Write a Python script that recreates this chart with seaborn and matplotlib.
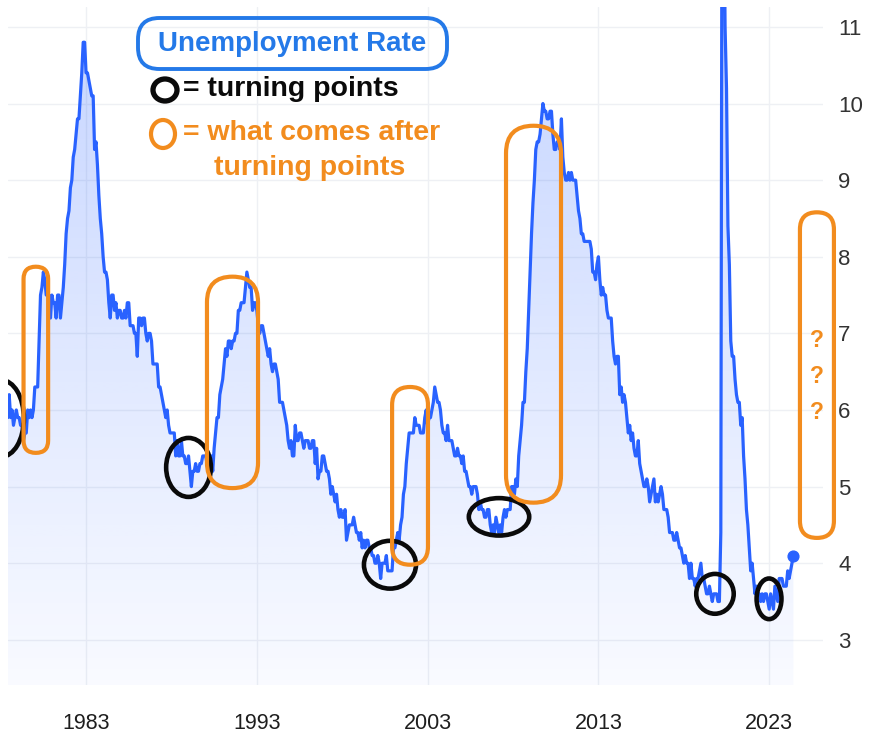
import numpy as np
import pandas as pd
import matplotlib
matplotlib.use("Agg")
import matplotlib.pyplot as plt
import seaborn as sns
from matplotlib.patches import FancyBboxPatch, Ellipse
from matplotlib.colors import to_rgb

# ---------------- data (monthly US unemployment rate, %) ----------------
START_YEAR = 1978
rates_1978_1987 = [
    6.4, 6.3, 6.3, 6.1, 6.0, 5.9, 6.2, 5.9, 6.0, 5.8, 5.9, 6.0,
    5.9, 5.9, 5.8, 5.8, 5.6, 5.7, 5.7, 6.0, 5.9, 6.0, 5.9, 6.0,
    6.3, 6.3, 6.3, 6.9, 7.5, 7.6, 7.8, 7.7, 7.5, 7.5, 7.5, 7.2,
    7.5, 7.4, 7.4, 7.2, 7.5, 7.5, 7.2, 7.4, 7.6, 7.9, 8.3, 8.5,
    8.6, 8.9, 9.0, 9.3, 9.4, 9.6, 9.8, 9.8, 10.1, 10.4, 10.8, 10.8,
    10.4, 10.4, 10.3, 10.2, 10.1, 10.1, 9.4, 9.5, 9.2, 8.8, 8.5, 8.3,
    8.0, 7.8, 7.8, 7.7, 7.4, 7.2, 7.5, 7.5, 7.3, 7.4, 7.2, 7.3,
    7.3, 7.2, 7.2, 7.3, 7.2, 7.4, 7.4, 7.1, 7.1, 7.1, 7.0, 7.0,
    6.7, 7.2, 7.2, 7.1, 7.2, 7.2, 7.0, 6.9, 7.0, 7.0, 6.9, 6.6,
    6.6, 6.6, 6.6, 6.3, 6.3, 6.2, 6.1, 6.0, 5.9, 6.0, 5.8, 5.7,
]
rates_1988_1997 = [
    5.7, 5.7, 5.7, 5.4, 5.6, 5.4, 5.4, 5.6, 5.4, 5.4, 5.3, 5.3,
    5.4, 5.2, 5.0, 5.2, 5.2, 5.3, 5.2, 5.2, 5.3, 5.3, 5.4, 5.4,
    5.4, 5.3, 5.2, 5.4, 5.4, 5.2, 5.5, 5.7, 5.9, 5.9, 6.2, 6.3,
    6.4, 6.6, 6.8, 6.7, 6.9, 6.9, 6.8, 6.9, 6.9, 7.0, 7.0, 7.3,
    7.3, 7.4, 7.4, 7.4, 7.6, 7.8, 7.7, 7.6, 7.6, 7.3, 7.4, 7.4,
    7.3, 7.1, 7.0, 7.1, 7.1, 7.0, 6.9, 6.8, 6.7, 6.8, 6.6, 6.5,
    6.6, 6.6, 6.5, 6.4, 6.1, 6.1, 6.1, 6.0, 5.9, 5.8, 5.6, 5.5,
    5.6, 5.4, 5.4, 5.8, 5.6, 5.6, 5.7, 5.7, 5.6, 5.5, 5.6, 5.6,
    5.6, 5.5, 5.5, 5.6, 5.6, 5.3, 5.5, 5.1, 5.2, 5.2, 5.4, 5.4,
    5.3, 5.2, 5.2, 5.1, 4.9, 5.0, 4.9, 4.8, 4.9, 4.7, 4.6, 4.7,
]
rates_1998_2007 = [
    4.6, 4.6, 4.7, 4.3, 4.4, 4.5, 4.5, 4.5, 4.6, 4.5, 4.4, 4.4,
    4.3, 4.4, 4.2, 4.3, 4.2, 4.3, 4.3, 4.2, 4.2, 4.1, 4.1, 4.0,
    4.0, 4.1, 4.0, 3.8, 4.0, 4.0, 4.0, 4.1, 3.9, 3.9, 3.9, 3.9,
    4.2, 4.2, 4.3, 4.4, 4.3, 4.5, 4.6, 4.9, 5.0, 5.3, 5.5, 5.7,
    5.7, 5.7, 5.7, 5.9, 5.8, 5.8, 5.8, 5.7, 5.7, 5.7, 5.9, 6.0,
    5.8, 5.9, 5.9, 6.0, 6.1, 6.3, 6.2, 6.1, 6.1, 6.0, 5.8, 5.7,
    5.7, 5.6, 5.8, 5.6, 5.6, 5.6, 5.5, 5.4, 5.4, 5.5, 5.4, 5.4,
    5.3, 5.4, 5.2, 5.2, 5.1, 5.0, 5.0, 4.9, 5.0, 5.0, 5.0, 4.9,
    4.7, 4.8, 4.7, 4.7, 4.6, 4.6, 4.7, 4.7, 4.5, 4.4, 4.5, 4.4,
    4.6, 4.5, 4.4, 4.5, 4.4, 4.6, 4.7, 4.6, 4.7, 4.7, 4.7, 5.0,
]
rates_2008_2017 = [
    5.0, 4.9, 5.1, 5.0, 5.4, 5.6, 5.8, 6.1, 6.1, 6.5, 6.8, 7.3,
    7.8, 8.3, 8.7, 9.0, 9.4, 9.5, 9.5, 9.6, 9.8, 10.0, 9.9, 9.9,
    9.8, 9.8, 9.9, 9.9, 9.6, 9.4, 9.4, 9.5, 9.5, 9.4, 9.8, 9.3,
    9.1, 9.0, 9.0, 9.1, 9.0, 9.1, 9.0, 9.0, 9.0, 8.8, 8.6, 8.5,
    8.3, 8.3, 8.2, 8.2, 8.2, 8.2, 8.2, 8.1, 7.8, 7.8, 7.7, 7.9,
    8.0, 7.7, 7.5, 7.6, 7.5, 7.5, 7.3, 7.2, 7.2, 7.2, 6.9, 6.7,
    6.6, 6.7, 6.7, 6.2, 6.3, 6.1, 6.2, 6.1, 5.9, 5.7, 5.8, 5.6,
    5.7, 5.5, 5.4, 5.4, 5.6, 5.3, 5.2, 5.1, 5.0, 5.0, 5.1, 5.0,
    4.8, 4.9, 5.0, 5.1, 4.8, 4.9, 4.8, 4.9, 5.0, 4.9, 4.7, 4.7,
    4.7, 4.6, 4.4, 4.4, 4.4, 4.3, 4.3, 4.4, 4.3, 4.2, 4.2, 4.1,
]
rates_2018_2024 = [
    4.0, 4.1, 4.0, 4.0, 3.8, 4.0, 3.8, 3.8, 3.7, 3.8, 3.8, 3.9,
    4.0, 3.8, 3.8, 3.7, 3.6, 3.6, 3.7, 3.6, 3.5, 3.6, 3.6, 3.6,
    3.5, 3.5, 4.4, 14.8, 13.2, 11.0, 10.2, 8.4, 7.9, 6.9, 6.7, 6.7,
    6.4, 6.2, 6.1, 6.1, 5.8, 5.9, 5.4, 5.1, 4.7, 4.5, 4.2, 3.9,
    4.0, 3.8, 3.6, 3.7, 3.6, 3.6, 3.5, 3.6, 3.5, 3.6, 3.6, 3.5,
    3.4, 3.6, 3.5, 3.4, 3.7, 3.6, 3.5, 3.8, 3.8, 3.8, 3.7, 3.7,
    3.7, 3.9, 3.8, 3.9, 4.0, 4.1,
]
x_ticks = [1983, 1993, 2003, 2013, 2023]
y_ticks = [3, 4, 5, 6, 7, 8, 9, 10, 11]

# annotation regions in data units: (year_from, year_to, rate_low, rate_high)
turning_points = [
    (1976.79, 1979.31, 5.41, 6.37),
    (1987.74, 1990.26, 4.88, 5.62),
    (1999.33, 2002.26, 3.68, 4.28),
    (2005.48, 2008.88, 4.37, 4.84),
    (2018.77, 2020.88, 3.35, 3.85),
    (2022.29, 2023.69, 3.28, 3.79),
]
after_turning = [
    (1979.34, 1980.78, 5.44, 7.87),
    (1990.08, 1993.07, 4.98, 7.74),
    (2000.92, 2003.02, 3.98, 6.30),
    (2007.59, 2010.81, 4.79, 9.71),
]
future_box = (2024.80, 2026.79, 4.33, 8.58)
question_marks = ["?", "?", "?"]
question_levels = [6.91, 6.44, 5.97]

title_text = "Unemployment Rate"
legend_black = "= turning points"
legend_orange_1 = "= what comes after"
legend_orange_2 = "turning points"

# ---------------- style ----------------
LINE = "#2962FF"
ORANGE = "#F28C1E"
BLUE_T = "#2479E8"
BLACK = "#0a0a0a"
sns.set_style("white")
plt.rcParams["font.family"] = ["Liberation Sans", "DejaVu Sans"]

rates = rates_1978_1987 + rates_1988_1997 + rates_1998_2007 + rates_2008_2017 + rates_2018_2024
df = pd.DataFrame({"t": START_YEAR + np.arange(len(rates)) / 12.0, "rate": rates})

W, H = 873, 736
fig = plt.figure(figsize=(W / 100, H / 100), dpi=100)
fig.patch.set_facecolor("white")
ax = fig.add_axes([8 / W, 1 - 685 / H, 815 / W, 678 / H])
XL = (1978.43, 2026.15)
YL = (2.41, 11.26)

# gradient area under the line
poly = ax.fill_between(df["t"], df["rate"], YL[0], color="none", lw=0)
clip_path = poly.get_paths()[0]
n = 256
rgba = np.zeros((n, 1, 4))
rgba[..., :3] = to_rgb(LINE)
rgba[..., 3] = np.linspace(0.27, 0.03, n)[:, None]
im = ax.imshow(rgba, extent=[XL[0], XL[1], YL[0], YL[1]], origin="upper",
               aspect="auto", zorder=1, interpolation="bilinear")
im.set_clip_path(clip_path, transform=ax.transData)

sns.lineplot(data=df, x="t", y="rate", color=LINE, lw=2.3, ax=ax, zorder=3)
last = df.tail(1)
ax.scatter(last["t"], last["rate"], s=60, color=LINE, zorder=4, clip_on=False)

ax.set_xlim(*XL)
ax.set_ylim(*YL)
ax.set_xticks(x_ticks)
ax.set_xticklabels([str(v) for v in x_ticks])
ax.set_yticks(y_ticks)
ax.yaxis.tick_right()
ax.tick_params(axis="x", length=0, labelsize=15.5, pad=20, labelcolor="#1e1e1e")
ax.tick_params(axis="y", length=0, labelsize=16, pad=11, labelcolor="#333333")
ax.set_xlabel("")
ax.set_ylabel("")
ax.grid(True, color="#eef0f4", lw=1)
ax.set_axisbelow(True)
for s in ax.spines.values():
    s.set_visible(False)

# aspect for round corners in data coords
px_x = ax.bbox.width / (XL[1] - XL[0])
px_y = ax.bbox.height / (YL[1] - YL[0])
m_data = px_x / px_y


def rbox(x0, x1, y0, y1, color, lw, m, transform, clip, frac=0.5, target=None):
    w, h = x1 - x0, y1 - y0
    r = frac * min(w, h / m) * 0.999
    p = FancyBboxPatch((x0, y0), w, h, boxstyle=f"round,pad=0,rounding_size={r}",
                       mutation_aspect=m, fc="none", ec=color, lw=lw,
                       transform=transform, clip_on=clip, zorder=6)
    if target is None:
        ax.add_patch(p)
    else:
        target.add_artist(p)
    return p


for (x0, x1, y0, y1) in turning_points:
    ax.add_patch(Ellipse(((x0 + x1) / 2, (y0 + y1) / 2), (x1 - x0) * 1.04, (y1 - y0) * 1.04,
                         fc="none", ec=BLACK, lw=3.3, zorder=6, clip_on=True))
for (x0, x1, y0, y1) in after_turning:
    rbox(x0, x1, y0, y1, ORANGE, 3.0, m_data, ax.transData, False)
rbox(*future_box, ORANGE, 3.0, m_data, ax.transData, False)
qx = (future_box[0] + future_box[1]) / 2
for q, lv in zip(question_marks, question_levels):
    ax.text(qx, lv, q, color=ORANGE, fontsize=16.5, fontweight="bold",
            ha="center", va="center", clip_on=False, zorder=7)
ax.set_xlim(*XL)
ax.set_ylim(*YL)

# title box + legend (figure coordinates)
m_fig = W / H
rbox(138 / W, 447 / W, 1 - 69 / H, 1 - 18 / H, BLUE_T, 2.8, m_fig,
     fig.transFigure, False, frac=0.42, target=fig)
fig.text(292 / W, 1 - 44 / H, title_text, color=BLUE_T, fontsize=20,
         fontweight="bold", ha="center", va="center")
fig.add_artist(Ellipse((165 / W, 1 - 90 / H), 24 / W, 22 / H, transform=fig.transFigure,
                       fc="none", ec=BLACK, lw=3.8))
fig.add_artist(Ellipse((163 / W, 1 - 134 / H), 24 / W, 28 / H, transform=fig.transFigure,
                       fc="none", ec=ORANGE, lw=3.0))
fig.text(183 / W, 1 - 89 / H, legend_black, color=BLACK, fontsize=20.5,
         fontweight="bold", ha="left", va="center")
fig.text(183 / W, 1 - 133 / H, legend_orange_1, color=ORANGE, fontsize=20.5,
         fontweight="bold", ha="left", va="center")
fig.text(310 / W, 1 - 168 / H, legend_orange_2, color=ORANGE, fontsize=20.5,
         fontweight="bold", ha="center", va="center")

fig.savefig("out.png", dpi=100, facecolor="white")
